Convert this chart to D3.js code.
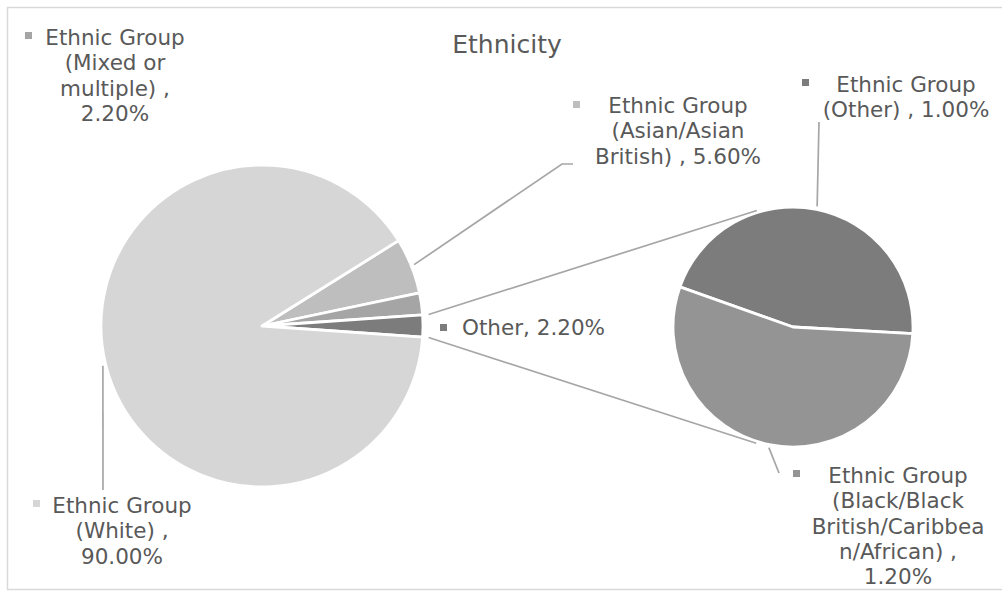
<!DOCTYPE html>
<html>
<head>
<meta charset="utf-8">
<script src="https://cdn.jsdelivr.net/npm/d3@7/dist/d3.min.js"></script>
<style>
  html, body { margin: 0; padding: 0; background: #ffffff; }
  svg { display: block; font-family: "DejaVu Sans", Verdana, sans-serif; }
</style>
</head>
<body>
<svg id="chart" width="1002" height="591"></svg>
<script>
// ---------------- data ----------------
const chartTitle = "Ethnicity";
const mainCategories = ["Ethnic Group (Asian/Asian British)", "Ethnic Group (Mixed or multiple)", "Other", "Ethnic Group (White)"];
const mainValues = [5.6, 2.2, 2.2, 90.0];
const mainLabelLines = [
  ["Ethnic Group", "(Asian/Asian", "British) , 5.60%"],
  ["Ethnic Group", "(Mixed or", "multiple) ,", "2.20%"],
  ["Other, 2.20%"],
  ["Ethnic Group", "(White) ,", "90.00%"]
];
const secondCategories = ["Ethnic Group (Other)", "Ethnic Group (Black/Black British/Caribbean/African)"];
const secondValues = [1.0, 1.2];
const secondLabelLines = [
  ["Ethnic Group", "(Other) , 1.00%"],
  ["Ethnic Group", "(Black/Black", "British/Caribbea", "n/African) ,", "1.20%"]
];

// ---------------- layout / style ----------------
const svg = d3.select("#chart");
const textColor = "#595959";
const lineColor = "#a6a6a6";
const mainColors = ["#bebebe", "#a5a5a5", "#7c7c7c", "#d6d6d6"];
const secondColors = ["#7c7c7c", "#949494"];
const otherIndex = 2;

const mainC = { x: 262, y: 326, r: 161 };
const secC = { x: 793, y: 327, r: 120 };

// chart border
svg.append("rect").attr("x", 7.5).attr("y", 7.5).attr("width", 1000).attr("height", 582)
  .attr("fill", "none").attr("stroke", "#d9d9d9").attr("stroke-width", 1.5);

// title
svg.append("text").attr("x", 507).attr("y", 53).attr("text-anchor", "middle")
  .attr("font-size", 25).attr("fill", textColor).text(chartTitle);

// main pie: "Other" slice centred on the right (east)
const total = d3.sum(mainValues);
const before = d3.sum(mainValues.slice(0, otherIndex)) + mainValues[otherIndex] / 2;
const a0 = Math.PI / 2 - 2 * Math.PI * before / total;
const mainPie = d3.pie().sort(null).value(d => d).startAngle(a0).endAngle(a0 + 2 * Math.PI);
const mainArcs = mainPie(mainValues);
const mainArc = d3.arc().innerRadius(0).outerRadius(mainC.r);

const gMain = svg.append("g").attr("transform", `translate(${mainC.x},${mainC.y})`);
gMain.selectAll("path").data(mainArcs).join("path")
  .attr("d", mainArc)
  .attr("fill", (d, i) => mainColors[i])
  .attr("stroke", "#ffffff").attr("stroke-width", 2.8).attr("stroke-linejoin", "round");

// second pie
const secRot = -70.5 * Math.PI / 180;
const secPie = d3.pie().sort(null).value(d => d).startAngle(secRot).endAngle(secRot + 2 * Math.PI);
const secArcs = secPie(secondValues);
const secArc = d3.arc().innerRadius(0).outerRadius(secC.r);
const gSec = svg.append("g").attr("transform", `translate(${secC.x},${secC.y})`);
gSec.selectAll("path").data(secArcs).join("path")
  .attr("d", secArc)
  .attr("fill", (d, i) => secondColors[i])
  .attr("stroke", "#ffffff").attr("stroke-width", 2.8).attr("stroke-linejoin", "round");

// helpers (d3 angle: 0 = north, clockwise)
function pt(c, rad, ang) { return [c.x + rad * Math.sin(ang), c.y - rad * Math.cos(ang)]; }

// connector lines between pies (tangent to second pie)
const oArc = mainArcs[otherIndex];
[oArc.startAngle, oArc.endAngle].forEach((ang, k) => {
  const p = pt(mainC, mainC.r + 6, ang);
  const dx = p[0] - secC.x, dy = p[1] - secC.y;
  const d = Math.hypot(dx, dy);
  const base = Math.atan2(dy, dx);
  const off = Math.acos(secC.r / d);
  const t = base + (k === 0 ? off : -off);
  const q = [secC.x + (secC.r + 2) * Math.cos(t), secC.y + (secC.r + 2) * Math.sin(t)];
  svg.append("line").attr("x1", p[0]).attr("y1", p[1]).attr("x2", q[0]).attr("y2", q[1])
    .attr("stroke", lineColor).attr("stroke-width", 1.7);
});

// leader lines
function leader(c, arc, pts) {
  const mid = (arc.startAngle + arc.endAngle) / 2;
  const s = pt(c, c.r + 3, mid);
  const all = [s].concat(pts);
  svg.append("path").attr("d", d3.line()(all)).attr("fill", "none")
    .attr("stroke", lineColor).attr("stroke-width", 1.7);
}
leader(mainC, mainArcs[0], [[562, 164], [573, 164]]);
leader(mainC, mainArcs[3], [[103, 490]]);
leader(secC, secArcs[0], [[819, 122]]);
leader(secC, secArcs[1], [[779, 473]]);

// labels
const lh = 25.3;
function label(lines, color, cx, y0, bx, by, anchor) {
  svg.append("rect").attr("x", bx).attr("y", by).attr("width", 7).attr("height", 7).attr("fill", color);
  const t = svg.append("text").attr("font-size", 21.5).attr("fill", textColor)
    .attr("text-anchor", anchor || "middle");
  lines.forEach((l, i) => {
    t.append("tspan").attr("x", cx).attr("y", y0 + i * lh).text(l);
  });
}
label(mainLabelLines[1], mainColors[1], 115, 45, 25, 32);
label(mainLabelLines[0], mainColors[0], 678, 113, 573, 101);
label(mainLabelLines[2], mainColors[2], 462, 335, 440, 324, "start");
label(mainLabelLines[3], mainColors[3], 122, 513, 33, 500);
label(secondLabelLines[0], secondColors[0], 906, 92, 802, 79);
label(secondLabelLines[1], secondColors[1], 898, 483, 793, 470);
</script>
</body>
</html>
